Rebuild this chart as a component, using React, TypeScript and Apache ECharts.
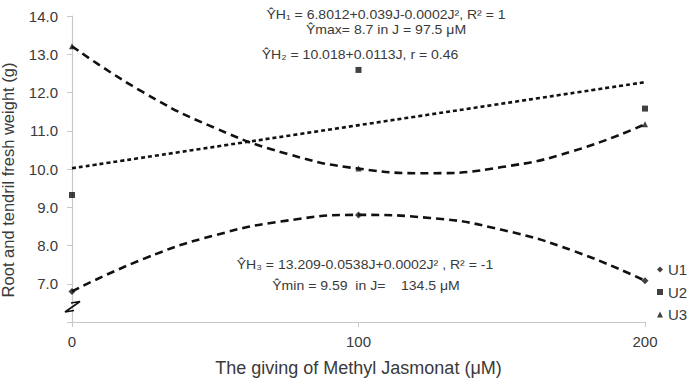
import React, { useEffect, useRef } from "react";
import * as echarts from "echarts";

const doses = [0, 100, 200];
const u1Values = [6.8, 8.8, 7.08];
const u2Values = [9.32, 12.59, 11.58];
const u3Values = [13.21, 10.01, 11.17];

// trend curves
const trendDoses = [0, 25, 50, 75, 100, 125, 150, 175, 200];
const trendU1 = [6.8, 7.65, 8.27, 8.65, 8.8, 8.72, 8.41, 7.86, 7.08];
const trendU3 = [13.21, 12.0, 11.07, 10.4, 10.01, 9.89, 10.05, 10.47, 11.17];
const trendU2Doses = [0, 200];
const trendU2 = [10.02, 12.27];

const seriesNames = ["U1", "U2", "U3"];
const annotations = [
  "ŶH₁ = 6.8012+0.039J-0.0002J², R² = 1",
  "Ŷmax= 8.7 in J = 97.5 μM",
  "ŶH₂ = 10.018+0.0113J, r = 0.46",
  "ŶH₃ = 13.209-0.0538J+0.0002J² , R² = -1",
  "Ŷmin = 9.59  in J=    134.5 μM",
];
const xTitle = "The giving of Methyl Jasmonat (μM)";
const yTitle = "Root and tendril fresh weight (g)";

const FONT = "'Liberation Sans', Arial, Helvetica, sans-serif";
const TXT = "#3a3a3a";

const pair = (xs: number[], ys: number[]) => xs.map((x, i) => [x, ys[i]]);

export default function App() {
  const ref = useRef<HTMLDivElement>(null);
  useEffect(() => {
    if (!ref.current) return;
    const chart = echarts.init(ref.current, undefined, { renderer: "svg" });
    const annStyle = (text: string, x: number, y: number) => ({
      type: "text",
      x,
      y,
      scaleX: 1.04,
      style: {
        text,
        fontFamily: FONT,
        fontSize: 13.5,
        fill: TXT,
        textAlign: "center",
        textVerticalAlign: "middle",
      },
      z: 10,
    });
    const markerSeries = (name: string, symbol: string, vals: number[]) => ({
      name,
      type: "scatter",
      symbol,
      symbolSize: symbol === "diamond" ? 7 : 6,
      itemStyle: { color: "#111" },
      data: pair(doses, vals),
      z: 5,
    });
    const trendSeries = (xs: number[], ys: number[], dash: number[]) => ({
      type: "line",
      smooth: true,
      showSymbol: false,
      symbol: "none",
      silent: true,
      lineStyle: { color: "#111", width: 2.6, type: dash },
      data: pair(xs, ys),
      z: 4,
    });
    chart.setOption({
      animation: false,
      backgroundColor: "#fff",
      textStyle: { fontFamily: FONT },
      grid: { left: 72, right: 48, top: 16, bottom: 59, containLabel: false },
      xAxis: {
        type: "value",
        min: 0,
        max: 200,
        interval: 100,
        name: xTitle,
        nameLocation: "middle",
        nameGap: 37,
        nameTextStyle: { fontSize: 18, color: TXT, fontFamily: FONT },
        axisLine: { show: true, lineStyle: { color: "#c8c8c8", width: 1.2 } },
        axisTick: { show: true, length: 5, lineStyle: { color: "#c8c8c8" } },
        axisLabel: { fontSize: 15, color: TXT, margin: 12, fontFamily: FONT },
        splitLine: { show: false },
      },
      yAxis: {
        type: "value",
        min: 6,
        max: 14,
        interval: 1,
        axisLine: { show: true, lineStyle: { color: "#c8c8c8", width: 1.2 } },
        axisTick: { show: true, length: 5, lineStyle: { color: "#c8c8c8" } },
        axisLabel: {
          fontSize: 15,
          color: TXT,
          margin: 14,
          fontFamily: FONT,
          formatter: (v: number) => (v === 6 ? "" : v.toFixed(1)),
        },
        splitLine: { show: false },
      },
      legend: {
        data: seriesNames.map((n, i) => ({
          name: n,
          icon: ["diamond", "rect", "triangle"][i],
        })),
        orient: "vertical",
        left: 652,
        top: 257,
        itemWidth: 6,
        itemHeight: 6,
        itemGap: 7.5,
        textStyle: { fontSize: 15, color: TXT, fontFamily: FONT },
        selectedMode: false,
      },
      series: [
        markerSeries("U1", "diamond", u1Values),
        markerSeries("U2", "rect", u2Values),
        markerSeries("U3", "triangle", u3Values),
        trendSeries(trendDoses, trendU1, [8, 5]),
        trendSeries(trendU2Doses, trendU2, [4, 3]),
        trendSeries(trendDoses, trendU3, [8, 5]),
      ],
      graphic: [
        {
          type: "text",
          x: 8,
          y: 180,
          rotation: Math.PI / 2,
          style: {
            text: yTitle,
            fontFamily: FONT,
            fontSize: 16.5,
            fill: TXT,
            textAlign: "center",
            textVerticalAlign: "middle",
          },
        },
        annStyle(annotations[0], 386, 15),
        annStyle(annotations[1], 386, 30),
        annStyle(annotations[2], 360, 55),
        annStyle(annotations[3], 365, 265),
        annStyle(annotations[4], 366, 286),
        {
          type: "polyline",
          shape: { points: [[71, 303], [80, 301.5], [65, 312], [74, 310.5]] },
          style: { stroke: "#111", lineWidth: 1.6, fill: null },
          z: 10,
        },
      ],
    });
    return () => chart.dispose();
  }, []);
  return (
    <div
      ref={ref}
      style={{ position: "fixed", left: 0, top: 0, width: 693, height: 382 }}
    />
  );
}
